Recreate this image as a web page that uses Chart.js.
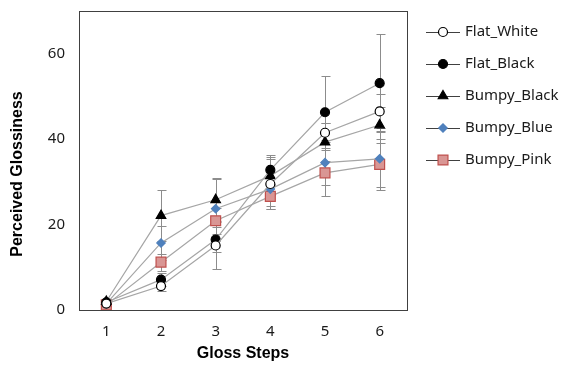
<!DOCTYPE html>
<html>
<head>
<meta charset="utf-8">
<script src="https://cdn.jsdelivr.net/npm/chart.js@4"></script>
<style>
  body { margin: 0; background: #fff; }
  #wrap { width: 561px; height: 365px; position: relative; }
</style>
</head>
<body>
<div id="wrap"><canvas id="chart"></canvas></div>
<script>
// gloss steps on x axis
const steps = ['1', '2', '3', '4', '5', '6'];

// mean perceived glossiness per series
const flatWhite  = [1.5, 5.6, 15.1, 29.5, 41.5, 46.5];
const flatBlack  = [1.8, 7.1, 16.5, 32.8, 46.3, 53.1];
const bumpyBlack = [2.0, 22.1, 25.8, 31.4, 39.3, 43.3];
const bumpyBlue  = [1.5, 15.7, 23.7, 28.3, 34.5, 35.4];
const bumpyPink  = [1.2, 11.2, 20.9, 26.6, 32.1, 34.1];

// error bar half-lengths
const flatWhiteErr  = [0.5, 1.2, 5.4, 5.8, 2.2, 4.0];
const flatBlackErr  = [0.5, 1.5, 3.0, 3.6, 8.4, 11.5];
const bumpyBlackErr = [0.6, 6.0, 5.0, 4.4, 4.5, 4.3];
const bumpyBlueErr  = [0.5, 4.0, 7.0, 4.0, 5.3, 6.6];
const bumpyPinkErr  = [0.5, 2.0, 3.0, 3.0, 5.3, 6.0];

const yTicks = [0, 20, 40, 60];

const seriesNames = ['Flat_White', 'Flat_Black', 'Bumpy_Black', 'Bumpy_Blue', 'Bumpy_Pink'];

const titleFont = 'bold 16px "Liberation Sans", Arial, sans-serif';

function makeSet(label, data, errs, style, radius, bg, border) {
  return {
    label: label,
    data: data,
    errors: errs,
    borderColor: '#a6a6a6',
    borderWidth: 1.2,
    pointStyle: style,
    pointRadius: radius,
    pointHoverRadius: radius,
    pointBackgroundColor: bg,
    pointBorderColor: border,
    pointBorderWidth: 1.2,
    tension: 0,
    fill: false
  };
}

const errorBars = {
  id: 'errorBars',
  beforeDatasetsDraw(chart) {
    const { ctx, scales: { x, y } } = chart;
    ctx.save();
    ctx.strokeStyle = '#8c8c8c';
    ctx.lineWidth = 1;
    chart.data.datasets.forEach(ds => {
      ds.errors.forEach((e, j) => {
        const px = Math.round(x.getPixelForValue(j)) + 0.5;
        const top = Math.round(y.getPixelForValue(ds.data[j] + e)) + 0.5;
        const bot = Math.round(y.getPixelForValue(ds.data[j] - e)) + 0.5;
        ctx.beginPath();
        ctx.moveTo(px, top); ctx.lineTo(px, bot);
        ctx.moveTo(px - 4, top); ctx.lineTo(px + 5, top);
        ctx.moveTo(px - 4, bot); ctx.lineTo(px + 5, bot);
        ctx.stroke();
      });
    });
    ctx.restore();
  }
};

// box round the plot area and the rotated y title
const plotBox = {
  id: 'plotBox',
  afterDraw(chart) {
    const { ctx, chartArea: a } = chart;
    ctx.save();
    ctx.strokeStyle = '#404040';
    ctx.lineWidth = 1;
    ctx.strokeRect(Math.round(a.left) + 0.5, Math.round(a.top) + 0.5,
      Math.round(a.right - a.left), Math.round(a.bottom - a.top));
    ctx.translate(18, 174);
    ctx.rotate(-Math.PI / 2);
    ctx.font = titleFont;
    ctx.fillStyle = '#000';
    ctx.textAlign = 'center';
    ctx.textBaseline = 'middle';
    ctx.fillText('Perceived Glossiness', 0, 0);
    ctx.restore();
  }
};

const sideLegend = {
  id: 'sideLegend',
  afterDraw(chart) {
    const { ctx, chartArea: a } = chart;
    ctx.save();
    chart.data.datasets.forEach((ds, i) => {
      const yy = 32 + i * 32;
      const x0 = a.right + 19;
      ctx.strokeStyle = '#404040';
      ctx.lineWidth = 1;
      ctx.beginPath();
      ctx.moveTo(x0, yy + 0.5); ctx.lineTo(x0 + 34, yy + 0.5);
      ctx.stroke();
      ctx.fillStyle = ds.pointBackgroundColor;
      ctx.strokeStyle = ds.pointBorderColor;
      ctx.lineWidth = ds.pointBorderWidth;
      Chart.helpers.drawPoint(ctx, {
        pointStyle: ds.pointStyle,
        radius: ds.pointRadius,
        borderWidth: ds.pointBorderWidth,
        rotation: 0
      }, x0 + 17, yy);
      ctx.fillStyle = '#1a1a1a';
      ctx.font = '15px "Noto Sans", "DejaVu Sans", sans-serif';
      ctx.textBaseline = 'middle';
      ctx.textAlign = 'left';
      ctx.fillText(ds.label, x0 + 39, yy);
    });
    ctx.restore();
  }
};

const chart = new Chart(document.getElementById('chart').getContext('2d'), {
  type: 'line',
  data: {
    labels: steps,
    datasets: [
      makeSet(seriesNames[0], flatWhite, flatWhiteErr, 'circle', 4.5, '#ffffff', '#000000'),
      makeSet(seriesNames[1], flatBlack, flatBlackErr, 'circle', 4.5, '#000000', '#000000'),
      makeSet(seriesNames[2], bumpyBlack, bumpyBlackErr, 'triangle', 5.5, '#000000', '#000000'),
      makeSet(seriesNames[3], bumpyBlue, bumpyBlueErr, 'rectRot', 4.2, '#4f81bd', '#4f81bd'),
      makeSet(seriesNames[4], bumpyPink, bumpyPinkErr, 'rect', 7, '#d99694', '#c0504d')
    ]
  },
  options: {
    responsive: true,
    maintainAspectRatio: false,
    animation: false,
    layout: { padding: { top: 11, right: 154, left: 0, bottom: 0 } },
    plugins: {
      legend: { display: false },
      tooltip: { enabled: false }
    },
    scales: {
      x: {
        offset: true,
        grid: { display: false },
        border: { display: false },
        ticks: {
          color: '#1a1a1a',
          padding: 5,
          font: { family: '"Noto Sans", "DejaVu Sans", sans-serif', size: 15 }
        },
        title: {
          display: true,
          text: 'Gloss Steps',
          color: '#000',
          padding: { top: 0, bottom: 2 },
          font: { family: '"Liberation Sans", Arial, sans-serif', size: 16, weight: 'bold' }
        },
        afterFit(scale) {
          scale.height = 55;
          scale.paddingLeft = 0;
          scale.paddingRight = 0;
        }
      },
      y: {
        min: 0,
        max: 70,
        grid: { display: false },
        border: { display: false },
        afterBuildTicks(scale) { scale.ticks = yTicks.map(v => ({ value: v })); },
        ticks: {
          color: '#1a1a1a',
          padding: 6,
          font: { family: '"Noto Sans", "DejaVu Sans", sans-serif', size: 15 }
        },
        afterFit(scale) {
          scale.width = 79;
          scale.paddingTop = 0;
          scale.paddingBottom = 0;
        }
      }
    }
  },
  plugins: [errorBars, plotBox, sideLegend]
});
</script>
</body>
</html>
